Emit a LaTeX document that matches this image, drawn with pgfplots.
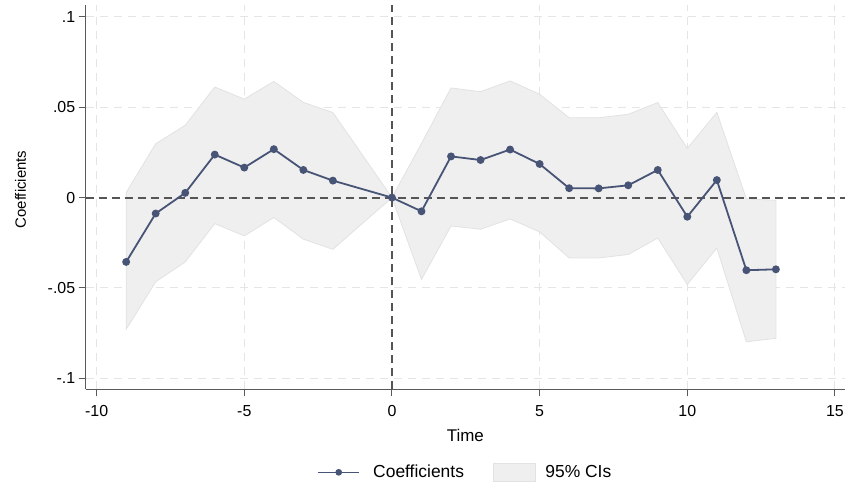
\documentclass[border=0pt]{standalone}
\usepackage{pgfplots}
\pgfplotsset{compat=1.18}
\usepackage{pgfplotstable}
\usepgfplotslibrary{fillbetween}
\usepackage{fontspec}
\setmainfont{Liberation Sans}
\definecolor{lcol}{RGB}{72,84,118}
\definecolor{cifill}{RGB}{239,239,239}
\definecolor{cidraw}{RGB}{226,226,226}
\definecolor{gridc}{RGB}{229,229,229}
\definecolor{zeroc}{RGB}{85,85,85}
\definecolor{axc}{RGB}{90,90,90}

\pgfplotstableread{
t coef upper lower
-9 -0.0356 0.0028 -0.0729
-8 -0.0088 0.0298 -0.0466
-7 0.0026 0.0400 -0.0356
-6 0.0238 0.0612 -0.0144
-5 0.0166 0.0545 -0.0212
-4 0.0268 0.0643 -0.0110
-3 0.0153 0.0527 -0.0230
-2 0.0094 0.0471 -0.0286
0 0 0 0
1 -0.0076 0.0300 -0.0453
2 0.0228 0.0607 -0.0157
3 0.0208 0.0586 -0.0175
4 0.0266 0.0646 -0.0118
5 0.0186 0.0572 -0.0190
6 0.0052 0.0442 -0.0334
7 0.0051 0.0442 -0.0334
8 0.0068 0.0461 -0.0315
9 0.0153 0.0526 -0.0224
10 -0.0106 0.0272 -0.0481
11 0.0097 0.0472 -0.0279
12 -0.0402 -0.0007 -0.0798
13 -0.0397 -0.0015 -0.0779
}\data

\begin{document}
\begin{tikzpicture}
\begin{axis}[
  name=ax,
  set layers,
  scale only axis,
  width=759.3bp, height=384.3bp,
  xmin=-10.37, xmax=15.34, ymin=-0.1061, ymax=0.1066,
  axis x line*=bottom, axis y line*=left,
  axis line style={axc, line width=1bp},
  xtick={-10,-5,0,5,10,15}, xticklabels={-10,-5,0,5,10,15},
  ytick={-0.1,-0.05,0,0.05,0.1}, yticklabels={-.1,-.05,0,.05,.1},
  minor xtick={-10,-5,5,10,15}, minor ytick={-0.1,-0.05,0.05,0.1},
  tick align=outside, major tick length=7bp, minor tick length=7bp,
  tick style={axc, line width=1bp},
  tick label style={font=\fontsize{16}{18}\selectfont},
  x tick label style={yshift=-6bp},
  /pgf/number format/assume math mode=true,
  grid=minor, minor grid style={gridc, line width=1bp, dash pattern=on 8bp off 6bp},
  xlabel={Time}, ylabel={Coefficients},
  every axis x label/.style={at={(axis description cs:0.5,-0.119)}, anchor=center, font=\fontsize{17}{19}\selectfont},
  every axis y label/.style={at={(axis description cs:-0.0859,0.52)}, anchor=center, rotate=90, font=\fontsize{15}{17}\selectfont},
  legend columns=2,
  reverse legend,
  legend style={at={(axis description cs:0.5,-0.216)}, anchor=center, draw=none, fill=none,
    font=\fontsize{17.5}{20}\selectfont,
    /tikz/every even column/.append style={column sep=27bp}},
  legend cell align=left,
]
\addplot[draw=none, name path=U, forget plot] table[x=t,y=upper]{\data};
\addplot[draw=none, name path=L, forget plot] table[x=t,y=lower]{\data};
\addplot[fill=cifill, draw=cidraw, line width=0.8bp, on layer=axis background,
  legend image code/.code={\draw[fill=cifill, draw=cidraw, line width=0.8bp] (0bp,-9bp) rectangle (42bp,9bp); \path[draw=none, fill=none] (42bp,0bp) -- (50bp,0bp);}]
  fill between[of=U and L];
\addlegendentry{95\% CIs}
\addplot[zeroc, line width=2bp, dash pattern=on 8bp off 5bp, forget plot] coordinates {(-10.37,0) (15.34,0)};
\addplot[zeroc, line width=1.8bp, dash pattern=on 8bp off 5bp, forget plot] coordinates {(0,-0.1061) (0,0.1066)};
\addplot[lcol, line width=1.8bp, mark=*, mark size=3bp, mark options={solid, fill=lcol},
  legend image code/.code={\draw[lcol, line width=1.6bp] (0bp,0bp) -- (41bp,0bp); \fill[lcol] (20.5bp,0bp) circle (2.4bp); \path[draw=none, fill=none] (41bp,0bp) -- (53bp,0bp);}]
  table[x=t,y=coef]{\data};
\addlegendentry{Coefficients}
\end{axis}
\path ([xshift=-85.7bp,yshift=-93.7bp]ax.south west) rectangle ([xshift=3bp,yshift=5bp]ax.north east);
\end{tikzpicture}
\end{document}
